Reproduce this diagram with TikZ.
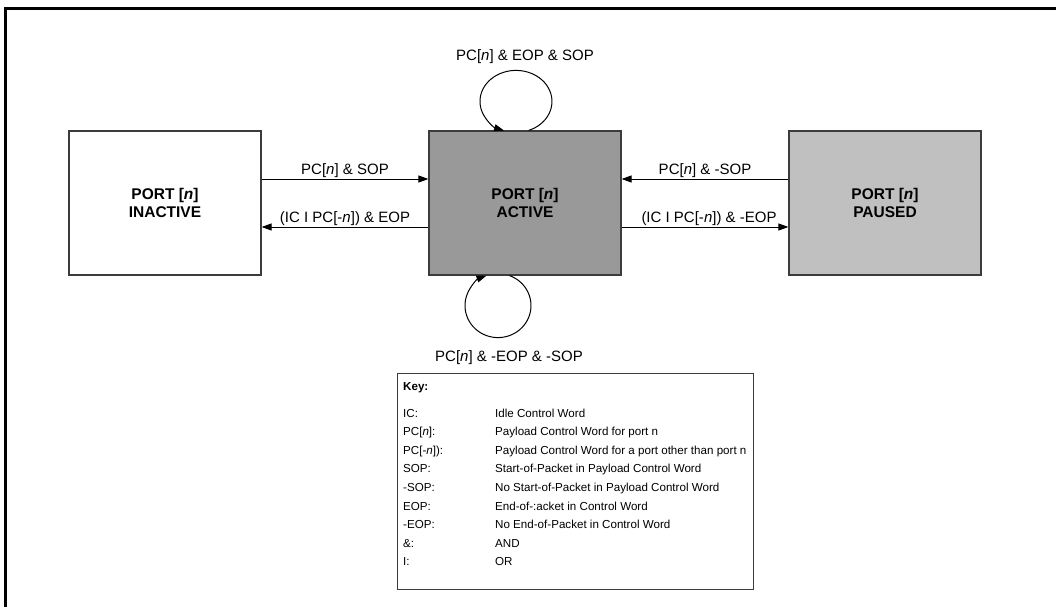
\documentclass[tikz,border=0pt]{standalone}
\usepackage{fontspec}
\setmainfont{Liberation Sans}
\usetikzlibrary{arrows.meta,calc}
\definecolor{boxline}{HTML}{3C3C3C}
\definecolor{activefill}{HTML}{999999}
\definecolor{pausedfill}{HTML}{C0C0C0}
\tikzset{
  state/.style={draw=boxline, line width=1.2pt, minimum width=192pt, minimum height=144pt,
    inner sep=0pt, align=center, font=\fontsize{15.5}{18.5}\selectfont\bfseries},
  lbl/.style={inner sep=0pt, anchor=base, font=\fontsize{15}{18}\selectfont},
  conn/.style={line width=1pt, -{Triangle[length=10pt,width=7pt]}},
  keytxt/.style={inner sep=0pt, anchor=base west, font=\fontsize{11.6}{14}\selectfont},
}
\begin{document}
\begin{tikzpicture}[x=1pt,y=1pt]
\useasboundingbox (0,0) rectangle (1056,-607);
% frame
\coordinate (f1) at (3.5,-9);
\coordinate (f2) at (1056,-9);
\coordinate (f3) at (5,-607);
\draw[line width=3pt] (f2) -- (f1 -| f3) -- (f3);
% states
\node[state, fill=white] (inactive) at (165,-203) {PORT [\textit{n}]\\INACTIVE};
\node[state, fill=activefill] (active) at (525,-203) {PORT [\textit{n}]\\ACTIVE};
\node[state, fill=pausedfill] (paused) at (885,-203) {PORT [\textit{n}]\\PAUSED};
% transitions
\draw[conn] ([yshift=24pt]inactive.east) -- ([yshift=24pt]active.west)
  node[lbl, midway, yshift=5pt] (t1) {PC[\textit{n}] \& SOP};
\draw[conn] ([yshift=-24pt]active.west) -- ([yshift=-24pt]inactive.east)
  node[lbl, midway, yshift=5pt] (t2) {(IC I PC[-\textit{n}]) \& EOP};
\draw[conn] ([yshift=24pt]paused.west) -- ([yshift=24pt]active.east)
  node[lbl, midway, yshift=5pt] (t3) {PC[\textit{n}] \& -SOP};
\draw[conn] ([yshift=-24pt]active.east) -- ([yshift=-24pt]paused.west)
  node[lbl, midway, yshift=5pt, xshift=4pt] (t4) {(IC I PC[-\textit{n}]) \& -EOP};
% self loops
\coordinate (tl) at ([xshift=3.7pt]active.north);
\draw[conn] (tl) arc[start angle=-69.3, end angle=250.7, x radius=36pt, y radius=31pt];
\node[lbl] (t5) at (525,-61) {PC[\textit{n}] \& EOP \& SOP};
\coordinate (bl) at ([xshift=-15.5pt]active.south);
\draw[conn] (bl) arc[start angle=69.6, end angle=-249.6, x radius=33pt, y radius=32pt];
\node[lbl] (t6) at (509,-361) {PC[\textit{n}] \& -EOP \& -SOP};
% key
\node[draw=boxline, line width=1.2pt, minimum width=356pt, minimum height=216pt,
  anchor=north west, inner sep=0pt] (key) at (397,-373) {};
\node[keytxt, font=\fontsize{11.6}{14}\selectfont\bfseries] (keyhead) at (403,-390) {Key:};
\foreach \lab/\desc [count=\i from 0] in {
  {IC:}/{Idle Control Word},
  {PC[\textit{n}]:}/{Payload Control Word for port n},
  {PC[-\textit{n}]):}/{Payload Control Word for a port other than port n},
  {SOP:}/{Start-of-Packet in Payload Control Word},
  {-SOP:}/{No Start-of-Packet in Payload Control Word},
  {EOP:}/{End-of-:acket in Control Word},
  {-EOP:}/{No End-of-Packet in Control Word},
  {\&:}/{AND},
  {I:}/{OR}}{
  \node[keytxt] (kl\i) at (403,{-417-18.6*\i}) {\lab};
  \node[keytxt] (kd\i) at (495,{-417-18.6*\i}) {\desc};
}
\end{tikzpicture}
\end{document}
